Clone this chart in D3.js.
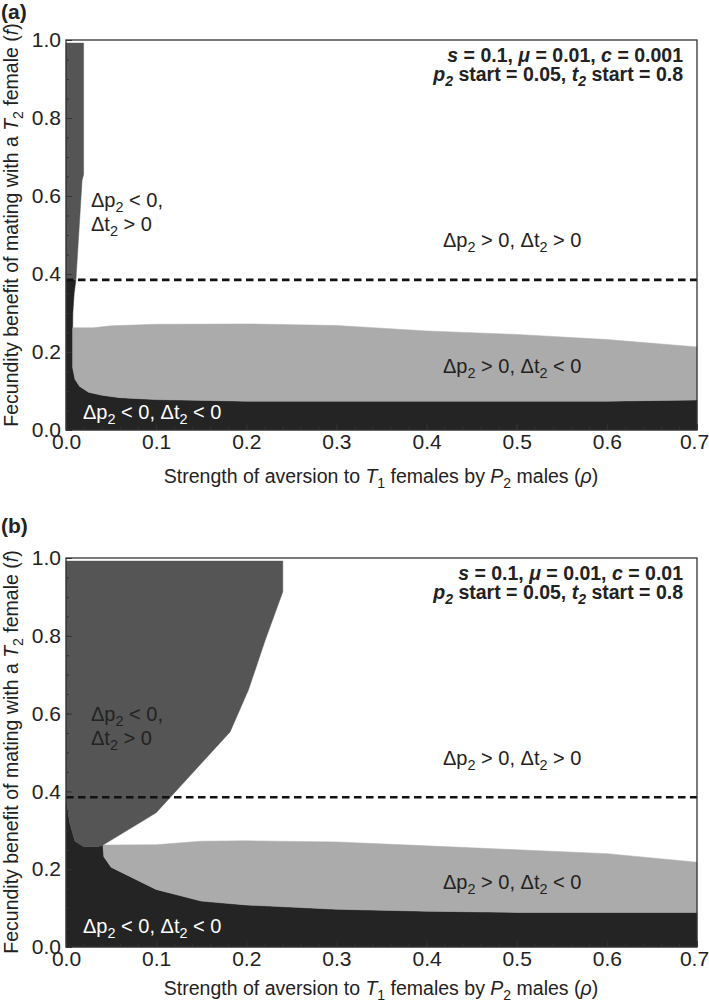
<!DOCTYPE html>
<html><head><meta charset="utf-8">
<script src="https://cdn.jsdelivr.net/npm/d3@7"></script>
<style>
body{margin:0;background:#fff;}
svg text{font-family:"Liberation Sans",Arial,sans-serif;fill:#222;}
</style></head>
<body><svg id="chart" width="709" height="1004"></svg>
<script>
// ---------- data ----------
const xTicks = [0, 0.1, 0.2, 0.3, 0.4, 0.5, 0.6, 0.7];
const yTicks = [0, 0.2, 0.4, 0.6, 0.8, 1.0];
const thresholdF = 0.385;            // dashed line

// Panel (a): c = 0.001
const aMedEdge   = [[0.0195,0.992],[0.0195,0.655],[0.0178,0.64],[0.011,0.385]];
const aDarkUpper = [[0.011,0.385],[0.009,0.35],[0.0076,0.30],[0.0074,0.262]];
const aGrayTop   = [[0.0074,0.262],[0.03,0.262],[0.05,0.267],[0.1,0.271],[0.2,0.272],[0.3,0.268],[0.4,0.254],[0.5,0.245],[0.6,0.232],[0.7,0.213]];
const aGrayBottom= [[0.0074,0.262],[0.0074,0.16],[0.01,0.13],[0.015,0.112],[0.025,0.097],[0.04,0.089],[0.06,0.083],[0.1,0.078],[0.2,0.074],[0.6,0.074],[0.7,0.077]];

// Panel (b): c = 0.01
const bMedEdge   = [[0.2405,0.992],[0.2405,0.913],[0.221,0.789],[0.2024,0.661],[0.182,0.553],[0.1,0.345],[0.041,0.262]];
const bDarkTop   = [[0,0.385],[0.004,0.32],[0.01,0.272],[0.02,0.258],[0.035,0.258],[0.041,0.262]];
const bGrayTop   = [[0.041,0.262],[0.1,0.263],[0.15,0.272],[0.2,0.273],[0.3,0.27],[0.4,0.26],[0.5,0.25],[0.6,0.24],[0.7,0.218]];
const bGrayBottom= [[0.041,0.262],[0.042,0.232],[0.05,0.205],[0.1,0.148],[0.15,0.118],[0.2,0.108],[0.3,0.097],[0.4,0.092],[0.5,0.089],[0.7,0.089]];

const paramsA = ["0.1","0.01","0.001","0.05","0.8"];
const paramsB = ["0.1","0.01","0.01","0.05","0.8"];

// ---------- drawing ----------
const svg = d3.select("#chart");
const COL_MED = "#555555", COL_DARK = "#242424", COL_LIGHT = "#ababab";
const x = d3.scaleLinear().domain([0,0.7]).range([66,697]);

function rich(sel, parts, size){
  let shift = 0;
  parts.forEach(([t, st]) => {
    const ts = sel.append("tspan").text(t);
    const sub = st && st.includes("s");
    const target = sub ? size*0.25 : 0;
    if (target !== shift) { ts.attr("dy", target - shift); shift = target; }
    if (sub) ts.attr("font-size", size*0.72);
    if (st && st.includes("i")) ts.attr("font-style","italic");
  });
  return sel;
}

function drawPanel(cfg){
  const y = d3.scaleLinear().domain([0,1]).range([cfg.bottom, cfg.top]);
  const g = svg.append("g");
  const line = d3.line().x(d=>x(d[0])).y(d=>y(d[1]));

  const dark = [[0,0],[0.7,0]].concat(cfg.grayBottom.slice().reverse(), cfg.darkUpper.slice().reverse(), [[0,0.385]]);
  const light = cfg.grayTop.concat(cfg.grayBottom.slice().reverse());
  const med = [[0,0.992]].concat(cfg.medEdge, cfg.medClose);

  g.append("path").attr("d", line(dark)+"Z").attr("fill", COL_DARK).attr("stroke",COL_DARK).attr("stroke-width",0.5);
  g.append("path").attr("d", line(light)+"Z").attr("fill", COL_LIGHT).attr("stroke",COL_LIGHT).attr("stroke-width",0.5);
  g.append("path").attr("d", line(med)+"Z").attr("fill", COL_MED).attr("stroke",COL_MED).attr("stroke-width",0.5);

  g.append("line").attr("x1", x(0)).attr("x2", x(0.7)).attr("y1", y(thresholdF)).attr("y2", y(thresholdF))
    .attr("stroke","#111").attr("stroke-width",2.6).attr("stroke-dasharray","7.5,4.5");

  g.append("rect").attr("x", x(0)).attr("y", y(1)).attr("width", x(0.7)-x(0)).attr("height", y(0)-y(1))
    .attr("fill","none").attr("stroke","#333").attr("stroke-width",1.3);

  const minorX = d3.range(0, 0.7001, 0.02);
  const minorY = d3.range(0, 1.0001, 0.05);
  const ax = g.append("g").attr("transform",`translate(0,${cfg.bottom})`)
    .call(d3.axisBottom(x).tickValues(xTicks).tickSize(-6).tickPadding(4).tickFormat(d3.format(".1f")));
  g.append("g").attr("transform",`translate(0,${cfg.bottom})`)
    .call(d3.axisBottom(x).tickValues(minorX).tickSize(-3).tickFormat(""));
  const ay = g.append("g").attr("transform",`translate(${x(0)},0)`)
    .call(d3.axisLeft(y).tickValues(yTicks).tickSize(-6).tickPadding(5).tickFormat(d3.format(".1f")));
  g.append("g").attr("transform",`translate(${x(0)},0)`)
    .call(d3.axisLeft(y).tickValues(minorY).tickSize(-3).tickFormat(""));
  g.selectAll(".domain").remove();
  g.selectAll(".tick line").attr("stroke","#333");
  ax.selectAll("text").attr("font-size",21).attr("fill","#222").attr("font-family","Liberation Sans, Arial, sans-serif");
  ay.selectAll("text").attr("font-size",21).attr("fill","#222").attr("font-family","Liberation Sans, Arial, sans-serif");
  // keep last x label inside the page, as in the reference
  ax.selectAll("text").filter(d => d === 0.7).attr("dx", -3);

  g.append("text").attr("x",1).attr("y",cfg.letterY).attr("font-size",21).attr("font-weight","bold").text(cfg.letter);

  rich(g.append("text").attr("transform",`translate(18,${cfg.yLabelMid}) rotate(-90)`).attr("text-anchor","middle").attr("font-size",19.5),
    [["Fecundity benefit of mating with a "],["T","i"],["2","s"],[" female ("],["f","i"],[")"]], 19.5);
  rich(g.append("text").attr("x",381).attr("y",cfg.xLabelY).attr("text-anchor","middle").attr("font-size",19.5),
    [["Strength of aversion to "],["T","i"],["1","s"],[" females by "],["P","i"],["2","s"],[" males ("],["ρ","i"],[")"]], 19.5);

  const p = cfg.params;
  rich(g.append("text").attr("x",683).attr("y",cfg.top+22).attr("text-anchor","end").attr("font-size",19.5).attr("font-weight","bold"),
    [["s","i"],[" = "+p[0]+", "],["μ","i"],[" = "+p[1]+", "],["c","i"],[" = "+p[2]]], 19.5);
  rich(g.append("text").attr("x",683).attr("y",cfg.top+41).attr("text-anchor","end").attr("font-size",19.5).attr("font-weight","bold"),
    [["p","i"],["2","is"],[" start = "+p[3]+", "],["t","i"],["2","is"],[" start = "+p[4]]], 19.5);

  const fs = 20;
  const lab = (xx, yy, parts, col) => rich(g.append("text").attr("x",xx).attr("y",yy).attr("font-size",fs).style("fill",col||"#222"), parts, fs);
  lab(91, cfg.medLabelY, [["Δp"],["2","s"],[" < 0,"]]);
  lab(91, cfg.medLabelY+24, [["Δt"],["2","s"],[" > 0"]]);
  lab(443, cfg.whiteLabelY, [["Δp"],["2","s"],[" > 0, Δt"],["2","s"],[" > 0"]]);
  lab(443, cfg.lightLabelY, [["Δp"],["2","s"],[" > 0, Δt"],["2","s"],[" < 0"]]);
  lab(83, cfg.darkLabelY, [["Δp"],["2","s"],[" < 0, Δt"],["2","s"],[" < 0"]], "#fff");
}

drawPanel({top:40, bottom:430, letter:"(a)", letterY:19, yLabelMid:225, xLabelY:483,
  medEdge:aMedEdge, medClose:[[0,0.385]], darkUpper:aDarkUpper, grayTop:aGrayTop, grayBottom:aGrayBottom,
  params:paramsA, medLabelY:207, whiteLabelY:247, lightLabelY:373, darkLabelY:419});

drawPanel({top:558, bottom:947, letter:"(b)", letterY:533, yLabelMid:752, xLabelY:995,
  medEdge:bMedEdge, medClose:bDarkTop.slice().reverse(), darkUpper:bDarkTop, grayTop:bGrayTop, grayBottom:bGrayBottom,
  params:paramsB, medLabelY:721, whiteLabelY:765, lightLabelY:889, darkLabelY:933});
</script></body></html>
